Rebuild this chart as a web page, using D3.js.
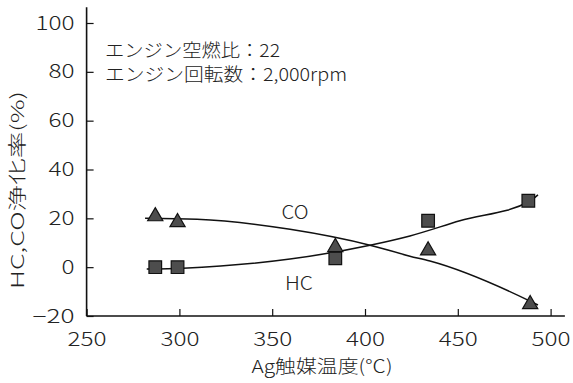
<!DOCTYPE html>
<html>
<head>
<meta charset="utf-8">
<script src="https://cdn.jsdelivr.net/npm/d3@7"></script>
<style>
  body { margin: 0; background: #fff; }
  text { font-family: "Noto Sans CJK JP", "Noto Sans", sans-serif; font-weight: 300; fill: #222; }
</style>
</head>
<body>
<div id="chart"></div>
<script>
// data
var xTicks = [250, 300, 350, 400, 450, 500];
var yTicks = [-20, 0, 20, 40, 60, 80, 100];

// CO (triangles)
var coTemp = [287, 299, 384, 434, 489];
var coRate = [20.8, 18.4, 8.2, 6.8, -15.2];
// HC (squares)
var hcTemp = [287, 299, 384, 434, 488];
var hcRate = [0, 0, 3.6, 19.0, 27.2];

// fitted lines
var coFitTemp = [281.5, 309.5, 359.6, 402.7, 424.2, 435, 488.9, 493.2];
var coFitRate = [20.0, 19.6, 15.5, 9.0, 4.5, 2.5, -13.9, -15.5];
var hcFitTemp = [282.4, 301.9, 359.6, 402.7, 424.2, 451.1, 488.9, 493.2];
var hcFitRate = [-0.8, -0.4, 3.3, 9.0, 12.8, 19.0, 27.1, 29.6];

var notes = ["エンジン空燃比：22", "エンジン回転数：2,000rpm"];

var width = 573, height = 383;

var svg = d3.select("#chart").append("svg")
    .attr("width", width)
    .attr("height", height);

// scales
var x = d3.scaleLinear().domain([250, 500]).range([86.6, 550.6]);
var y = d3.scaleLinear().domain([-20, 100]).range([316, 23]);

// the scanned font is wide, so stretch labels to the measured widths
function digitsWidth(s) { return s.length * 13 + (s.charAt(0) === "\u2212" ? 3 : 0); }

// axis lines (run a bit past the last tick)
svg.append("line")
    .attr("x1", x(250)).attr("x2", x(507.7))
    .attr("y1", y(-20)).attr("y2", y(-20))
    .attr("stroke", "#111").attr("stroke-width", 1.6);
svg.append("line")
    .attr("x1", x(250)).attr("x2", x(250))
    .attr("y1", y(-20)).attr("y2", y(106.5))
    .attr("stroke", "#111").attr("stroke-width", 1.6);

// x axis, ticks pointing inward
var gx = svg.append("g")
    .attr("transform", "translate(0," + y(-20) + ")")
    .call(d3.axisBottom(x).tickValues(xTicks).tickSizeInner(-7).tickSizeOuter(0).tickPadding(17));
gx.select(".domain").remove();
gx.selectAll("line").attr("stroke", "#111").attr("stroke-width", 1.2);
gx.selectAll("text").style("font-size", "19px").attr("fill", "#222")
    .attr("textLength", function () { return digitsWidth(this.textContent); })
    .attr("lengthAdjust", "spacingAndGlyphs");

// y axis
var gy = svg.append("g")
    .attr("transform", "translate(" + x(250) + ",0)")
    .call(d3.axisLeft(y).tickValues(yTicks).tickSizeInner(-7).tickSizeOuter(0).tickPadding(12)
        .tickFormat(function (d) { return d < 0 ? "\u2212" + Math.abs(d) : d; }));
gy.select(".domain").remove();
gy.selectAll("line").attr("stroke", "#111").attr("stroke-width", 1.2);
gy.selectAll("text").style("font-size", "19px").attr("fill", "#222")
    .attr("textLength", function () { return digitsWidth(this.textContent); })
    .attr("lengthAdjust", "spacingAndGlyphs");

// axis titles
svg.append("text")
    .attr("x", 322).attr("y", 373)
    .attr("text-anchor", "middle")
    .attr("textLength", 141).attr("lengthAdjust", "spacingAndGlyphs")
    .style("font-size", "18px")
    .text("Ag触媒温度(℃)");

svg.append("text")
    .attr("transform", "translate(24,190) rotate(-90)")
    .attr("text-anchor", "middle")
    .attr("textLength", 198).attr("lengthAdjust", "spacingAndGlyphs")
    .style("font-size", "18px")
    .text("HC,CO浄化率(%)");

// condition notes
var noteWidths = [175, 242];
svg.selectAll(".note")
    .data(notes)
    .enter().append("text")
    .attr("class", "note")
    .attr("x", 105)
    .attr("y", function (d, i) { return 57 + i * 24; })
    .attr("textLength", function (d, i) { return noteWidths[i]; })
    .attr("lengthAdjust", "spacingAndGlyphs")
    .style("font-size", "18px")
    .text(String);

// fitted curves
var lineGenerator = d3.line()
    .x(function (d) { return x(d[0]); })
    .y(function (d) { return y(d[1]); })
    .curve(d3.curveMonotoneX);

svg.append("path")
    .datum(coFitTemp.map(function (t, i) { return [t, coFitRate[i]]; }))
    .attr("d", lineGenerator)
    .attr("fill", "none").attr("stroke", "#111").attr("stroke-width", 1.5);
svg.append("path")
    .datum(hcFitTemp.map(function (t, i) { return [t, hcFitRate[i]]; }))
    .attr("d", lineGenerator)
    .attr("fill", "none").attr("stroke", "#111").attr("stroke-width", 1.5);

// markers: squares first, triangles on top
svg.selectAll(".hc")
    .data(hcTemp.map(function (t, i) { return [t, hcRate[i]]; }))
    .enter().append("path")
    .attr("class", "hc")
    .attr("d", d3.symbol().type(d3.symbolSquare).size(160))
    .attr("transform", function (d) { return "translate(" + x(d[0]) + "," + y(d[1]) + ")"; })
    .attr("fill", "#4d4d4d").attr("stroke", "#111").attr("stroke-width", 1.2);

svg.selectAll(".co")
    .data(coTemp.map(function (t, i) { return [t, coRate[i]]; }))
    .enter().append("path")
    .attr("class", "co")
    .attr("d", d3.symbol().type(d3.symbolTriangle).size(100))
    .attr("transform", function (d) { return "translate(" + x(d[0]) + "," + y(d[1]) + ")"; })
    .attr("fill", "#4d4d4d").attr("stroke", "#111").attr("stroke-width", 1.2);

// series labels
svg.append("text").attr("x", 295).attr("y", 219)
    .attr("text-anchor", "middle").attr("textLength", 27).attr("lengthAdjust", "spacingAndGlyphs")
    .style("font-size", "19px").text("CO");
svg.append("text").attr("x", 299).attr("y", 290)
    .attr("text-anchor", "middle").attr("textLength", 28).attr("lengthAdjust", "spacingAndGlyphs")
    .style("font-size", "19px").text("HC");
</script>
</body>
</html>
